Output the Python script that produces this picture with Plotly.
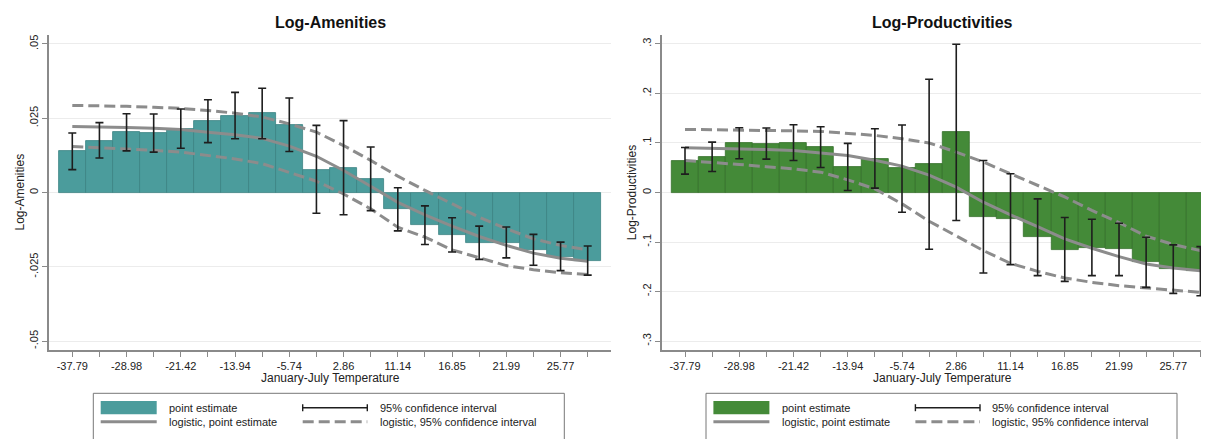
import numpy as np
import plotly.graph_objects as go

# ---------------- data ----------------
bins = list(range(20))
tick_labels = ["-37.79", "-28.98", "-21.42", "-13.94", "-5.74",
               "2.86", "11.14", "16.85", "21.99", "25.77"]

amen_est = [0.0138, 0.0175, 0.0202, 0.0199, 0.0215, 0.0240, 0.0258, 0.0266, 0.0228, 0.0077,
            0.0083, 0.0046, -0.0056, -0.0110, -0.0142, -0.0169, -0.0170, -0.0194, -0.0216, -0.0229]
amen_lo = [0.0077, 0.0116, 0.0140, 0.0136, 0.0149, 0.0168, 0.0181, 0.0181, 0.0138, -0.0070,
           -0.0075, -0.0061, -0.0129, -0.0175, -0.0200, -0.0225, -0.0220, -0.0245, -0.0263, -0.0278]
amen_hi = [0.0200, 0.0235, 0.0265, 0.0264, 0.0281, 0.0312, 0.0337, 0.0351, 0.0318, 0.0226,
           0.0242, 0.0153, 0.0016, -0.0045, -0.0085, -0.0113, -0.0116, -0.0141, -0.0167, -0.0180]
amen_logit = [0.0222, 0.0221, 0.0219, 0.0216, 0.0212, 0.0203, 0.0194, 0.0182, 0.0156, 0.0122,
              0.0074, 0.0021, -0.0033, -0.0075, -0.0113, -0.0148, -0.0178, -0.0204, -0.0221, -0.0231]
amen_logit_hi = [0.0293, 0.0292, 0.0290, 0.0287, 0.0283, 0.0276, 0.0267, 0.0254, 0.0231, 0.0203,
                 0.0158, 0.0108, 0.0055, 0.0007, -0.0038, -0.0083, -0.0122, -0.0156, -0.0178, -0.0193]
amen_logit_lo = [0.0155, 0.0151, 0.0147, 0.0142, 0.0136, 0.0125, 0.0113, 0.0097, 0.0068, 0.0038,
                 -0.0005, -0.0055, -0.0117, -0.0150, -0.0193, -0.0220, -0.0246, -0.0260, -0.0270, -0.0276]

prod_est = [0.0640, 0.0720, 0.0995, 0.0985, 0.1005, 0.0915, 0.0515, 0.0685, 0.0485, 0.0575,
            0.1214, -0.0485, -0.0537, -0.0904, -0.1155, -0.1115, -0.1150, -0.1405, -0.1548, -0.1580]
prod_lo = [0.0371, 0.0425, 0.0681, 0.0674, 0.0647, 0.0506, 0.0040, 0.0088, -0.0398, -0.1146,
           -0.0566, -0.1625, -0.1457, -0.1679, -0.1794, -0.1679, -0.1679, -0.1916, -0.2037, -0.2084]
prod_hi = [0.0910, 0.1018, 0.1308, 0.1301, 0.1369, 0.1328, 0.0991, 0.1288, 0.1362, 0.2286,
           0.2994, 0.0647, 0.0378, -0.0128, -0.0506, -0.0540, -0.0621, -0.0904, -0.1058, -0.1092]
prod_logit = [0.0904, 0.0895, 0.0880, 0.0866, 0.0850, 0.0800, 0.0749, 0.0650, 0.0533, 0.0350,
              0.0108, -0.0196, -0.0452, -0.0688, -0.0937, -0.1126, -0.1295, -0.1443, -0.1524, -0.1578]
prod_logit_hi = [0.1274, 0.1270, 0.1264, 0.1254, 0.1245, 0.1234, 0.1190, 0.1153, 0.1086, 0.1000,
                 0.0816, 0.0614, 0.0378, 0.0150, -0.0090, -0.0360, -0.0610, -0.0880, -0.1050, -0.1173]
prod_logit_lo = [0.0647, 0.0614, 0.0566, 0.0520, 0.0479, 0.0411, 0.0256, 0.0074, -0.0229, -0.0580,
                 -0.0870, -0.1173, -0.1430, -0.1592, -0.1726, -0.1814, -0.1881, -0.1928, -0.1983, -0.2017]

amen_yticks = [-0.05, -0.025, 0, 0.025, 0.05]
amen_yticktext = ["-.05", "-.025", "0", ".025", ".05"]
prod_yticks = [-0.3, -0.2, -0.1, 0, 0.1, 0.2, 0.3]
prod_yticktext = ["-.3", "-.2", "-.1", "0", ".1", ".2", ".3"]

# ---------------- style ----------------
W, H = 1209, 439
PAGE_OFF = 8  # default body margin of the html page
FONT = "Liberation Sans, Arial, Helvetica, sans-serif"
TEAL, TEAL_EDGE = "#4b9c9c", "#3b8282"
GREEN, GREEN_EDGE = "#448a38", "#35702b"
LINE_GRAY = "#8c8c8c"
ERR_COLOR = "#1e1e1e"
AXIS_GRAY = "#8a8a8a"
GRID = "#ececec"
TXT = "#222222"


def px(x):
    return (x - PAGE_OFF) / W


def py(y):
    return 1 - (y - PAGE_OFF) / H


PANEL_SHIFT = 612.7
BAR0 = 72.3
STEP = 27.126

fig = go.Figure()


def add_panel(est, lo, hi, lg, lg_hi, lg_lo, color, edge, xa, ya):
    est = np.array(est)
    lo = np.array(lo)
    hi = np.array(hi)
    fig.add_trace(go.Bar(x=bins, y=est, width=1.0, marker=dict(color=color, line=dict(color=edge, width=0.8)),
                         xaxis=xa, yaxis=ya, showlegend=False, hoverinfo="skip"))
    fig.add_trace(go.Scatter(x=bins, y=lg_hi, mode="lines", line=dict(color=LINE_GRAY, width=3, dash="11px,5px"),
                             xaxis=xa, yaxis=ya, showlegend=False))
    fig.add_trace(go.Scatter(x=bins, y=lg_lo, mode="lines", line=dict(color=LINE_GRAY, width=3, dash="11px,5px"),
                             xaxis=xa, yaxis=ya, showlegend=False))
    fig.add_trace(go.Scatter(x=bins, y=lg, mode="lines", line=dict(color=LINE_GRAY, width=3),
                             xaxis=xa, yaxis=ya, showlegend=False))
    fig.add_trace(go.Scatter(x=bins, y=est, mode="markers", marker=dict(size=0.1, color="rgba(0,0,0,0)"),
                             error_y=dict(type="data", symmetric=False, array=hi - est, arrayminus=est - lo,
                                          color=ERR_COLOR, thickness=1.6, width=4),
                             xaxis=xa, yaxis=ya, showlegend=False))


add_panel(amen_est, amen_lo, amen_hi, amen_logit, amen_logit_hi, amen_logit_lo, TEAL, TEAL_EDGE, "x", "y")
add_panel(prod_est, prod_lo, prod_hi, prod_logit, prod_logit_hi, prod_logit_lo, GREEN, GREEN_EDGE, "x2", "y2")

left_l, left_r = 49.0, 611.0
right_l = left_l + PANEL_SHIFT
right_r = W + PAGE_OFF
top_px, bot_px = 35.0, 350.0

xr_left = [(left_l - BAR0) / STEP, (left_r - BAR0) / STEP]
xr_right = [(right_l - (BAR0 + PANEL_SHIFT)) / STEP, (right_r - (BAR0 + PANEL_SHIFT)) / STEP]

xcommon = dict(tickmode="array", tickvals=bins,
               ticktext=[tick_labels[i // 2] if i % 2 == 0 else "" for i in bins],
               ticks="outside", ticklen=5, tickwidth=1.2, tickcolor=AXIS_GRAY,
               showline=True, linecolor=AXIS_GRAY, linewidth=1.5, showgrid=False, zeroline=False,
               tickfont=dict(size=11, color=TXT, family=FONT), automargin=False)
ycommon = dict(ticks="outside", ticklen=5, tickwidth=1.2, tickcolor=AXIS_GRAY, tickangle=-90,
               showline=True, linecolor=AXIS_GRAY, linewidth=1.5, showgrid=True, gridcolor=GRID,
               gridwidth=1.2, zeroline=False, tickfont=dict(size=11, color=TXT, family=FONT), automargin=False)

fig.update_layout(
    width=W, height=H, margin=dict(l=0, r=0, t=0, b=0),
    paper_bgcolor="white", plot_bgcolor="white", barmode="overlay", bargap=0,
    font=dict(family=FONT, color=TXT),
    xaxis=dict(domain=[px(left_l), px(left_r)], range=xr_left, anchor="y", **xcommon),
    yaxis=dict(domain=[py(bot_px), py(top_px)], range=[-0.053, 0.053], anchor="x",
               tickvals=amen_yticks, ticktext=amen_yticktext, **ycommon),
    xaxis2=dict(domain=[px(right_l), 1.0], range=xr_right, anchor="y2", **xcommon),
    yaxis2=dict(domain=[py(bot_px), py(top_px)], range=[-0.318, 0.318], anchor="x2",
                tickvals=prod_yticks, ticktext=prod_yticktext, **ycommon),
    showlegend=False,
)

annotations = []
shapes = []


def txt(x, y, s, size=11, bold=False, angle=0, xanchor="center"):
    annotations.append(dict(x=px(x), y=py(y), xref="paper", yref="paper", text=("<b>%s</b>" % s) if bold else s,
                            showarrow=False, textangle=angle, xanchor=xanchor, yanchor="middle",
                            font=dict(size=size, color="#111111" if bold else TXT, family=FONT)))


for off, title, ytitle, fill in [(0.0, "Log-Amenities", "Log-Amenities", TEAL),
                                 (PANEL_SHIFT, "Log-Productivities", "Log-Productivities", GREEN)]:
    cx = (left_l + left_r) / 2 + off
    txt(cx, 23, title, size=16, bold=True)
    txt(cx, 378, "January-July Temperature", size=12)
    txt(19 + off, (top_px + bot_px) / 2, ytitle, size=12, angle=-90)
    # legend box
    shapes.append(dict(type="rect", xref="paper", yref="paper", x0=px(93.3 + off), x1=px(564.3 + off),
                       y0=py(470), y1=py(393.3), line=dict(color="#777777", width=1), fillcolor="white"))
    r1, r2 = 407.7, 421.7
    shapes.append(dict(type="rect", xref="paper", yref="paper", x0=px(100.7 + off), x1=px(156.7 + off),
                       y0=py(414.3), y1=py(400.9), line=dict(width=0), fillcolor=fill))
    shapes.append(dict(type="line", xref="paper", yref="paper", x0=px(100.7 + off), x1=px(156.7 + off),
                       y0=py(r2), y1=py(r2), line=dict(color=LINE_GRAY, width=3)))
    shapes.append(dict(type="line", xref="paper", yref="paper", x0=px(302.7 + off), x1=px(367.3 + off),
                       y0=py(r1), y1=py(r1), line=dict(color=ERR_COLOR, width=1.4)))
    for cxx in (302.7, 367.3):
        shapes.append(dict(type="line", xref="paper", yref="paper", x0=px(cxx + off), x1=px(cxx + off),
                           y0=py(r1 + 3.5), y1=py(r1 - 3.5), line=dict(color=ERR_COLOR, width=1.4)))
    shapes.append(dict(type="line", xref="paper", yref="paper", x0=px(302.7 + off), x1=px(367.3 + off),
                       y0=py(r2), y1=py(r2), line=dict(color=LINE_GRAY, width=3, dash="11px,5px")))
    txt(167 + off, r1, "point estimate", xanchor="left")
    txt(377.7 + off, r1, "95% confidence interval", xanchor="left")
    txt(167 + off, r2, "logistic, point estimate", xanchor="left")
    txt(377.7 + off, r2, "logistic, 95% confidence interval", xanchor="left")

fig.update_layout(annotations=annotations, shapes=shapes)

fig.write_html("out.html")
